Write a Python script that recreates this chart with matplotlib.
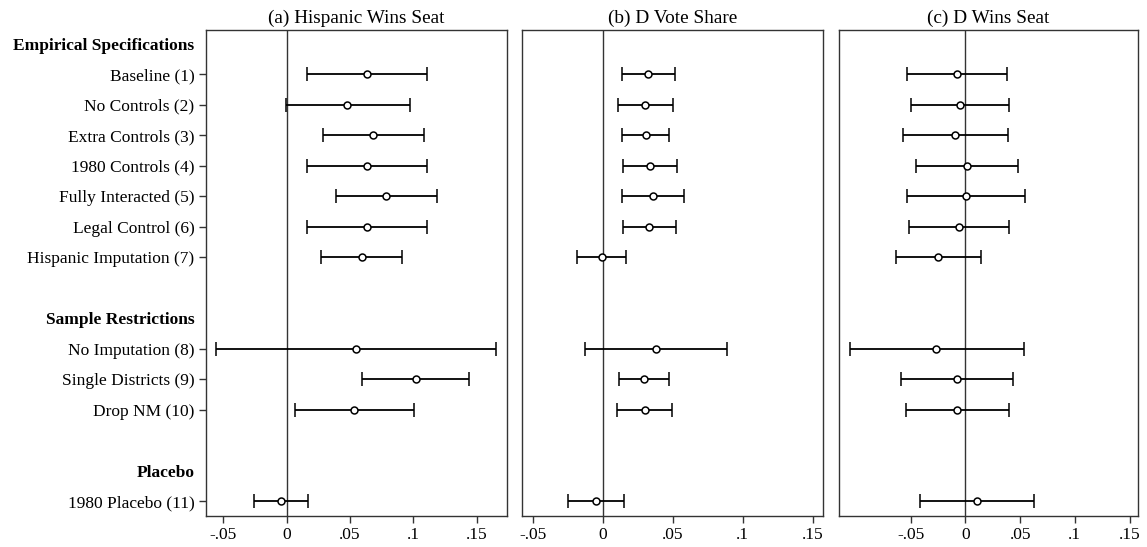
import matplotlib
matplotlib.use("Agg")
import matplotlib.pyplot as plt
import numpy as np

plt.rcParams['font.family'] = ['Liberation Serif', 'DejaVu Serif']

# Row labels (top to bottom); empty entries are blank spacer rows
row_labels = ["Empirical Specifications", "Baseline (1)", "No Controls (2)", "Extra Controls (3)",
              "1980 Controls (4)", "Fully Interacted (5)", "Legal Control (6)",
              "Hispanic Imputation (7)", "", "Sample Restrictions", "No Imputation (8)",
              "Single Districts (9)", "Drop NM (10)", "", "Placebo", "1980 Placebo (11)"]
headers = ["Empirical Specifications", "Sample Restrictions", "Placebo"]

panel_titles = ["(a) Hispanic Wins Seat", "(b) D Vote Share", "(c) D Wins Seat"]

# Estimates for specifications (1)..(11)
est_a = [0.0637, 0.0479, 0.0684, 0.0634, 0.0787, 0.0637, 0.0592, 0.0550, 0.1018, 0.0531, -0.0047]
lo_a = [0.0163, -0.0008, 0.0287, 0.0160, 0.0387, 0.0163, 0.0271, -0.0556, 0.0592, 0.0063, -0.0260]
hi_a = [0.1110, 0.0973, 0.1084, 0.1108, 0.1189, 0.1110, 0.0913, 0.1655, 0.1442, 0.1003, 0.0166]

est_b = [0.0324, 0.0305, 0.0307, 0.0338, 0.0357, 0.0331, -0.0007, 0.0383, 0.0293, 0.0302, -0.0048]
lo_b = [0.0136, 0.0109, 0.0136, 0.0145, 0.0136, 0.0143, -0.0184, -0.0124, 0.0116, 0.0105, -0.0250]
hi_b = [0.0514, 0.0500, 0.0476, 0.0531, 0.0583, 0.0521, 0.0166, 0.0888, 0.0471, 0.0495, 0.0155]

est_c = [-0.0076, -0.0048, -0.0094, 0.0012, 0.0003, -0.0055, -0.0247, -0.0265, -0.0079, -0.0076, 0.0104]
lo_c = [-0.0530, -0.0497, -0.0573, -0.0448, -0.0533, -0.0512, -0.0634, -0.1055, -0.0591, -0.0543, -0.0414]
hi_c = [0.0381, 0.0400, 0.0388, 0.0479, 0.0546, 0.0400, 0.0144, 0.0531, 0.0436, 0.0394, 0.0626]

xticks = [-0.05, 0, 0.05, 0.1, 0.15]
xtick_labels = ["-.05", "0", ".05", ".1", ".15"]
xlims = [(-0.064, 0.174), (-0.0574, 0.1576), (-0.1156, 0.158)]

series = [(est_a, lo_a, hi_a), (est_b, lo_b, hi_b), (est_c, lo_c, hi_c)]

# y positions of specification rows
spec_rows = [i for i, l in enumerate(row_labels) if l and l not in headers]

W, H = 1147, 547
fig = plt.figure(figsize=(W / 100, H / 100), dpi=100)
lefts = [205.7, 522.3, 839.0]
rights = [507.0, 823.3, 1138.3]
top, bottom = 29.5, 516.0

fs = 12.5
for k in range(3):
    ax = fig.add_axes([lefts[k] / W, 1 - bottom / H, (rights[k] - lefts[k]) / W, (bottom - top) / H])
    est, lo, hi = series[k]
    est = np.array(est); lo = np.array(lo); hi = np.array(hi)
    ys = np.array(spec_rows, dtype=float)
    ax.axvline(0, color='#333333', lw=1.0, zorder=1)
    ax.errorbar(est, ys, xerr=[est - lo, hi - est], fmt='o', mfc='white', mec='black',
                mew=1.1, ms=5, ecolor='black', elinewidth=1.3, capsize=5, capthick=1.3,
                color='black', zorder=3)
    ax.set_xlim(*xlims[k])
    ax.set_ylim(15.48, -0.46)
    ax.set_xticks(xticks)
    ax.set_xticklabels(xtick_labels, fontsize=fs)
    ax.tick_params(axis='x', length=5, width=1, pad=3, color='#333333')
    ax.set_title(panel_titles[k], fontsize=13.9, pad=4.5)
    for sp in ax.spines.values():
        sp.set_color('#333333')
        sp.set_linewidth(1.0)
    if k == 0:
        ypos = [i for i, l in enumerate(row_labels) if l]
        labs = [row_labels[i] for i in ypos]
        ax.set_yticks(ypos)
        ax.set_yticklabels(labs, fontsize=fs)
        ax.tick_params(axis='y', length=5, width=1, pad=3, color='#333333')
        for t, lab, tl in zip(ax.yaxis.get_major_ticks(), labs, ax.get_yticklabels()):
            if lab in headers:
                t.tick1line.set_visible(False)
                tl.set_fontweight('bold')
    else:
        ax.set_yticks([])

fig.savefig("out.png", dpi=100)
